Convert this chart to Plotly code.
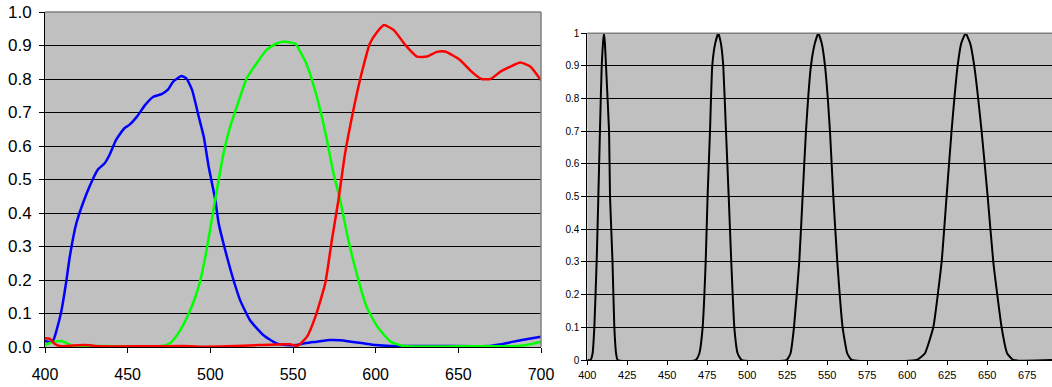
import plotly.graph_objects as go

# ---- Left chart: spectral sensitivities ----
blue_nm = [400, 403, 405, 407, 410, 413, 415, 419, 423, 427, 432, 436, 439, 443, 448, 451, 455.5, 460.5,
           465.5, 470.5, 474.5, 477.5, 482.5, 485.5, 489, 493, 496, 499, 503, 505, 510, 514, 518, 524, 532,
           540, 548, 552, 558, 564.5, 572.5, 578.5, 585, 592.5, 600, 609, 640, 669, 676, 683.5, 692, 700]
blue_val = [0.018, 0.015, 0.02, 0.05, 0.11, 0.2, 0.27, 0.37, 0.43, 0.48, 0.53, 0.548, 0.573, 0.618, 0.653,
            0.663, 0.687, 0.722, 0.747, 0.755, 0.769, 0.792, 0.809, 0.802, 0.767, 0.687, 0.628, 0.538, 0.439,
            0.37, 0.27, 0.2, 0.14, 0.08, 0.036, 0.011, 0.005, 0.006, 0.012, 0.016, 0.021, 0.02, 0.016, 0.011,
            0.006, 0.003, 0.003, 0.003, 0.008, 0.016, 0.024, 0.031]

green_nm = [400, 403, 406, 410, 413, 417, 433, 450, 469.5, 475.5, 480.5, 486.5, 491, 494, 497, 500, 504, 508,
            512, 516, 522, 528, 534, 540, 544, 548, 551.5, 554, 557.5, 561.5, 566.5, 570.5, 574.5, 578.5,
            583.5, 588.5, 594.5, 601, 609, 617, 650, 673, 687.5, 695, 700]
green_val = [0.006, 0.012, 0.016, 0.018, 0.012, 0.003, 0.003, 0.002, 0.002, 0.011, 0.04, 0.095, 0.15, 0.2,
             0.27, 0.354, 0.47, 0.578, 0.658, 0.717, 0.802, 0.847, 0.887, 0.906, 0.911, 0.91, 0.905, 0.885,
             0.852, 0.797, 0.707, 0.618, 0.518, 0.439, 0.319, 0.22, 0.12, 0.061, 0.016, 0.003, 0.002, 0.002,
             0.004, 0.01, 0.016]

red_nm = [400, 403, 406, 410, 416, 423, 427, 433, 460, 484, 494, 510, 530, 548, 553, 558.5, 563.5, 569.5,
          573.5, 577.5, 581.5, 586.5, 591.5, 596.5, 601, 605, 611, 618, 625, 631, 637, 642, 651, 658, 664,
          669.5, 675.5, 681.5, 687.5, 693.5, 700]
red_val = [0.026, 0.024, 0.009, 0.002, 0.004, 0.006, 0.005, 0.002, 0.002, 0.003, 0.001, 0.002, 0.006, 0.008,
           0.004, 0.031, 0.09, 0.19, 0.319, 0.439, 0.578, 0.707, 0.817, 0.906, 0.941, 0.961, 0.946, 0.901,
           0.867, 0.867, 0.881, 0.882, 0.857, 0.822, 0.8, 0.8, 0.822, 0.837, 0.849, 0.837, 0.796]

left_xticks = [400, 450, 500, 550, 600, 650, 700]

# ---- Right chart: narrow-band filters ----
band_nm = [400, 402, 403.3, 404.4, 405.9, 406.9, 407.9, 409, 409.8, 410.4, 411, 411.7, 413.6, 414.2, 415.7,
           416.9, 418, 419,
           467.7, 470, 472.1, 474, 475.2, 476.7, 478.1, 480, 481.9, 483.5, 485, 486.7, 488.4, 490, 491.9,
           494, 496.5,
           524.6, 527, 529.2, 532.5, 534.6, 536.7, 539.8, 542.3, 544.4, 546.5, 548.6, 551.7, 553.8, 556.3,
           559.6, 562.5, 565.3,
           605.9, 611, 616.3, 621.5, 624.6, 627.7, 631.5, 633.8, 636.5, 639.3, 641.9, 646.5, 650.3, 653.8,
           659, 662.5, 666.3, 690.5]
band_val = [0, 0, 0.02, 0.1, 0.31, 0.5, 0.7, 0.9, 0.97, 1.0, 0.97, 0.9, 0.7, 0.5, 0.31,
            0.1, 0.02, 0,
            0, 0.02, 0.1, 0.3, 0.5, 0.7, 0.9, 0.97, 1.0, 0.97, 0.9, 0.7, 0.5, 0.3, 0.1,
            0.02, 0,
            0, 0.02, 0.1, 0.3, 0.5, 0.7, 0.9, 0.97, 1.0, 0.97, 0.9, 0.7, 0.5, 0.3,
            0.1, 0.02, 0,
            0, 0.02, 0.1, 0.3, 0.5, 0.7, 0.9, 0.97, 1.0, 0.97, 0.9, 0.7, 0.5, 0.3,
            0.1, 0.02, 0, 0]

right_xticks = [400, 425, 450, 475, 500, 525, 550, 575, 600, 625, 650, 675]

W, H = 1052, 387
FONT = "Liberation Sans, Arial, sans-serif"

fig = go.Figure()
fig.add_trace(go.Scatter(x=blue_nm, y=blue_val, mode="lines", line=dict(color="#0000FF", width=2.5, shape="spline", smoothing=0.5),
                         xaxis="x", yaxis="y", showlegend=False))
fig.add_trace(go.Scatter(x=green_nm, y=green_val, mode="lines", line=dict(color="#00FF00", width=2.5, shape="spline", smoothing=0.5),
                         xaxis="x", yaxis="y", showlegend=False))
fig.add_trace(go.Scatter(x=red_nm, y=red_val, mode="lines", line=dict(color="#FF0000", width=2.5, shape="spline", smoothing=0.5),
                         xaxis="x", yaxis="y", showlegend=False))
fig.add_trace(go.Scatter(x=band_nm, y=band_val, mode="lines", line=dict(color="#000000", width=2, shape="spline", smoothing=0.4),
                         xaxis="x2", yaxis="y2", showlegend=False))

lx0, lx1, ly0, ly1 = 45, 541, 12, 347
rx0, rx1, ry0, ry1 = 587.3, 1052, 33.3, 360

fig.update_layout(
    width=W, height=H,
    margin=dict(l=0, r=0, t=0, b=0, autoexpand=False),
    paper_bgcolor="white", plot_bgcolor="#C0C0C0",
    font=dict(family=FONT, color="black"),
    xaxis=dict(domain=[lx0 / W, lx1 / W], range=[400, 700], tickvals=left_xticks,
               showgrid=False, zeroline=False, showline=True, linecolor="black", linewidth=1,
               ticks="outside", ticklen=5, tickcolor="black", tickfont=dict(size=16),
               ticklabelstandoff=8, automargin=False, fixedrange=True),
    yaxis=dict(domain=[1 - ly1 / H, 1 - ly0 / H], range=[0, 1], dtick=0.1, tick0=0, tickformat=".1f",
               showgrid=True, gridcolor="black", gridwidth=1, zeroline=False,
               showline=True, linecolor="black", linewidth=1,
               ticks="outside", ticklen=5, tickcolor="black", tickfont=dict(size=17),
               ticklabelstandoff=4, automargin=False, fixedrange=True),
    xaxis2=dict(domain=[rx0 / W, rx1 / W], range=[400, 690.5], tickvals=right_xticks, anchor="y2",
                showgrid=False, zeroline=False, showline=True, linecolor="black", linewidth=1,
                ticks="outside", ticklen=4, tickcolor="black", tickfont=dict(size=11),
                ticklabelstandoff=1, automargin=False, fixedrange=True),
    yaxis2=dict(domain=[1 - ry1 / H, 1 - ry0 / H], range=[0, 1], dtick=0.1, tick0=0, anchor="x2",
                showgrid=True, gridcolor="black", gridwidth=1, zeroline=False,
                showline=True, linecolor="black", linewidth=1,
                ticks="outside", ticklen=5, tickcolor="black", tickfont=dict(size=10),
                automargin=False, fixedrange=True),
    shapes=[
        dict(type="line", xref="x domain", yref="y domain", x0=0, x1=1, y0=1, y1=1,
             line=dict(color="#808080", width=1.5)),
        dict(type="line", xref="x domain", yref="y domain", x0=1, x1=1, y0=0, y1=1,
             line=dict(color="#808080", width=1.5)),
        dict(type="line", xref="x2 domain", yref="y2 domain", x0=0, x1=1, y0=1, y1=1,
             line=dict(color="#808080", width=1.5)),
    ],
)

fig.write_html("out.html")
